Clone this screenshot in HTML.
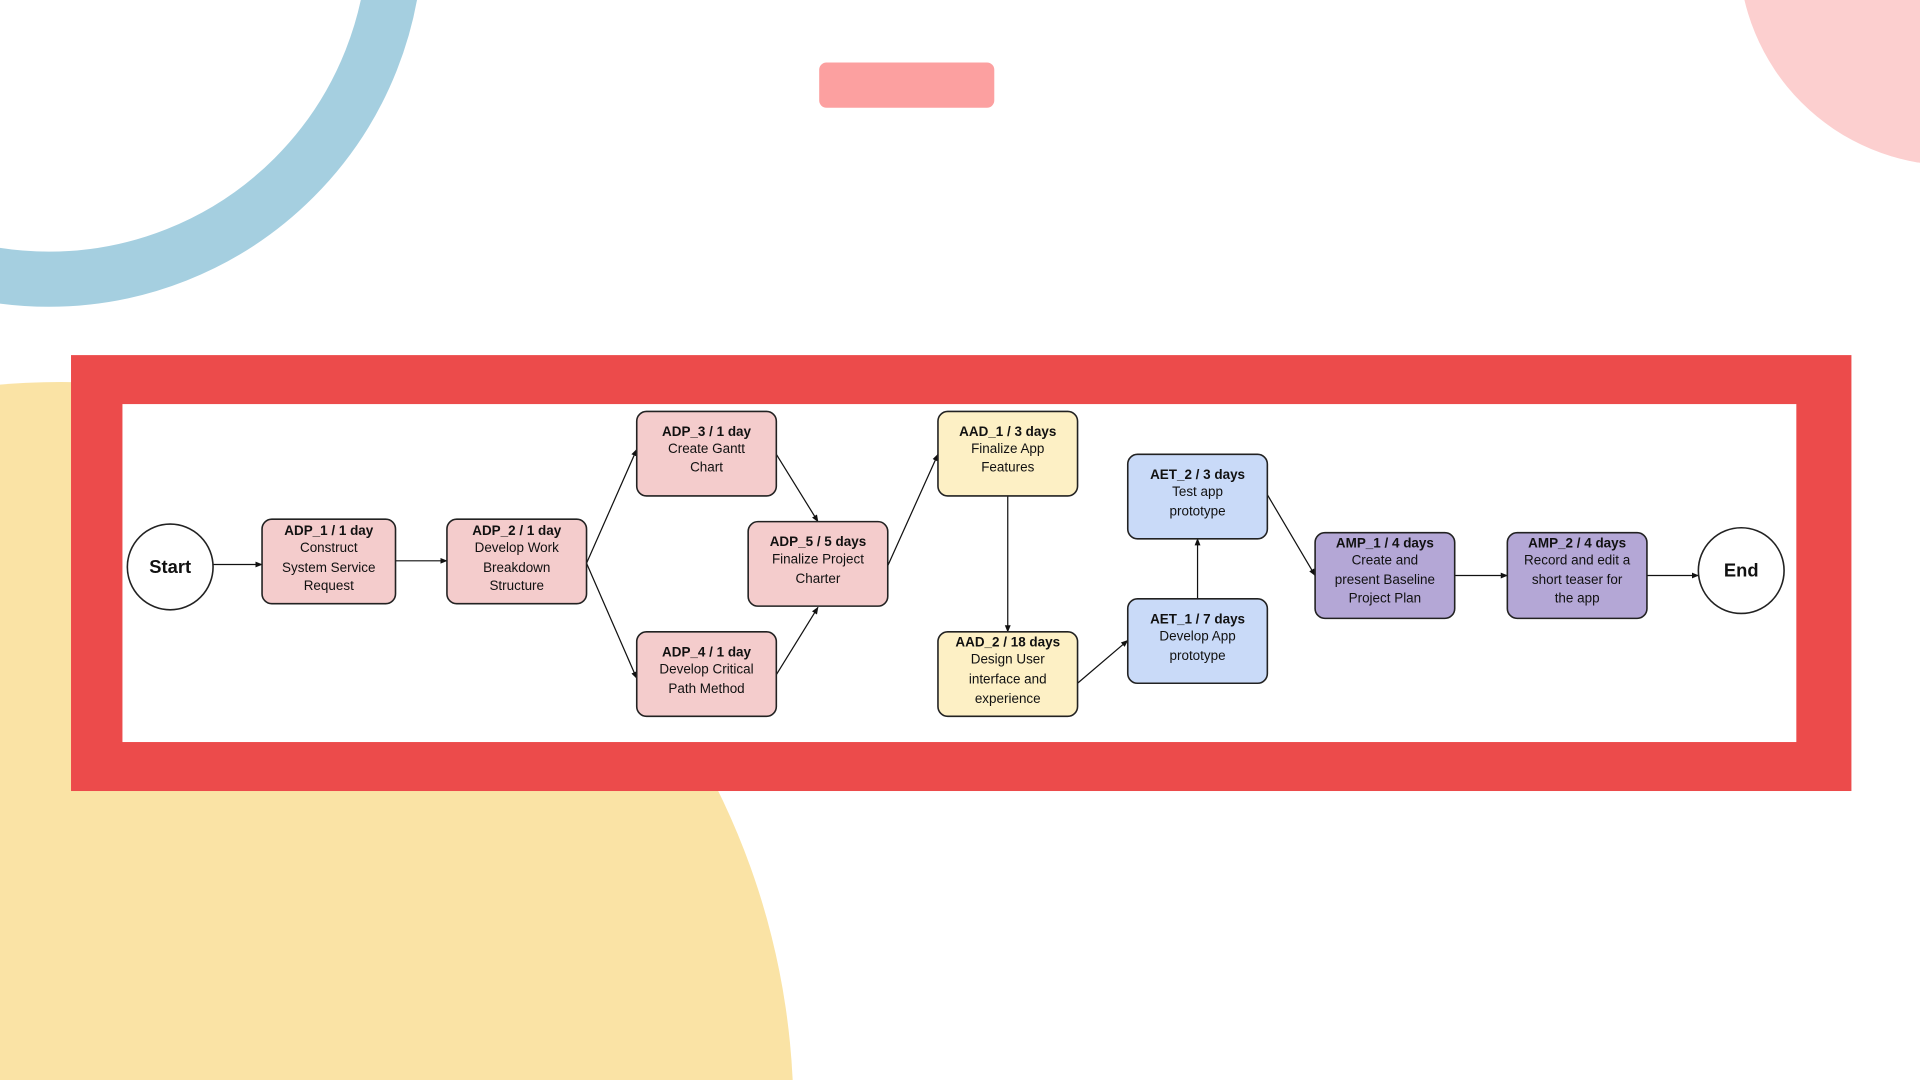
<!DOCTYPE html>
<html><head><meta charset="utf-8"><style>
html,body{margin:0;padding:0;background:#fff;width:1920px;height:1080px;overflow:hidden}
svg{display:block;overflow:hidden}
text{font-family:"Liberation Sans",Arial,sans-serif;font-size:11px;fill:#111;text-anchor:middle}
.b{font-weight:bold}
.n{stroke:#222;stroke-width:1.3}
.c{stroke:#111;stroke-width:1;fill:none;marker-end:url(#ar)}
</style></head><body>
<svg width="1920" height="1080" viewBox="0 0 1568 882" xmlns="http://www.w3.org/2000/svg">
<defs><marker id="ar" viewBox="0 0 10 10" refX="9" refY="5" markerWidth="6" markerHeight="6" orient="auto"><path d="M0,1 L10,5 L0,9 z" fill="#111"/></marker></defs>
<rect width="1568" height="882" fill="#fff"/>
<circle cx="50" cy="910" r="598" fill="#fae3a5"/>
<circle cx="40" cy="-55" r="283" fill="none" stroke="#a5cfe0" stroke-width="45"/>
<circle cx="1595" cy="-40" r="175" fill="#fccfcf"/>
<rect x="669" y="51" width="143" height="37" rx="6" fill="#fca0a0"/>
<rect x="58" y="290" width="1454" height="356" fill="#ec4b4b"/>
<rect x="100" y="330" width="1367" height="276" fill="#fff"/>

<line class="c" x1="174" y1="461" x2="214" y2="461"/>
<line class="c" x1="323" y1="458" x2="365" y2="458"/>
<line class="c" x1="479" y1="460" x2="520" y2="367"/>
<line class="c" x1="479" y1="460" x2="520" y2="554"/>
<line class="c" x1="634" y1="371" x2="668" y2="426"/>
<line class="c" x1="634" y1="551" x2="668" y2="496"/>
<line class="c" x1="725" y1="462" x2="766" y2="371"/>
<line class="c" x1="823" y1="405" x2="823" y2="516"/>
<line class="c" x1="880" y1="558" x2="921" y2="523"/>
<line class="c" x1="978" y1="489" x2="978" y2="440"/>
<line class="c" x1="1035" y1="404" x2="1074" y2="470"/>
<line class="c" x1="1188" y1="470" x2="1231" y2="470"/>
<line class="c" x1="1345" y1="470" x2="1387" y2="470"/>

<ellipse class="n" cx="139" cy="463" rx="35" ry="35" fill="#fff"/>
<text x="139" y="468" class="b" style="font-size:15px">Start</text>
<ellipse class="n" cx="1422" cy="466" rx="35" ry="35" fill="#fff"/>
<text x="1422" y="471" class="b" style="font-size:15px">End</text>

<rect class="n" x="214" y="424" width="109" height="69" rx="8" fill="#f4cccc"/>
<text x="268.5" y="437" class="b">ADP_1 / 1 day</text><text x="268.5" y="451">Construct</text><text x="268.5" y="467">System Service</text><text x="268.5" y="482">Request</text>

<rect class="n" x="365" y="424" width="114" height="69" rx="8" fill="#f4cccc"/>
<text x="422" y="437" class="b">ADP_2 / 1 day</text><text x="422" y="451">Develop Work</text><text x="422" y="467">Breakdown</text><text x="422" y="482">Structure</text>

<rect class="n" x="520" y="336" width="114" height="69" rx="8" fill="#f4cccc"/>
<text x="577" y="356" class="b">ADP_3 / 1 day</text><text x="577" y="370">Create Gantt</text><text x="577" y="385">Chart</text>

<rect class="n" x="520" y="516" width="114" height="69" rx="8" fill="#f4cccc"/>
<text x="577" y="536" class="b">ADP_4 / 1 day</text><text x="577" y="550">Develop Critical</text><text x="577" y="566">Path Method</text>

<rect class="n" x="611" y="426" width="114" height="69" rx="8" fill="#f4cccc"/>
<text x="668" y="446" class="b">ADP_5 / 5 days</text><text x="668" y="460">Finalize Project</text><text x="668" y="476">Charter</text>

<rect class="n" x="766" y="336" width="114" height="69" rx="8" fill="#fdf0c5"/>
<text x="823" y="356" class="b">AAD_1 / 3 days</text><text x="823" y="370">Finalize App</text><text x="823" y="385">Features</text>

<rect class="n" x="766" y="516" width="114" height="69" rx="8" fill="#fdf0c5"/>
<text x="823" y="528" class="b">AAD_2 / 18 days</text><text x="823" y="542">Design User</text><text x="823" y="558">interface and</text><text x="823" y="574">experience</text>

<rect class="n" x="921" y="371" width="114" height="69" rx="8" fill="#c9daf8"/>
<text x="978" y="391" class="b">AET_2 / 3 days</text><text x="978" y="405">Test app</text><text x="978" y="421">prototype</text>

<rect class="n" x="921" y="489" width="114" height="69" rx="8" fill="#c9daf8"/>
<text x="978" y="509" class="b">AET_1 / 7 days</text><text x="978" y="523">Develop App</text><text x="978" y="539">prototype</text>

<rect class="n" x="1074" y="435" width="114" height="70" rx="8" fill="#b4a7d6"/>
<text x="1131" y="447" class="b">AMP_1 / 4 days</text><text x="1131" y="461">Create and</text><text x="1131" y="477">present Baseline</text><text x="1131" y="492">Project Plan</text>

<rect class="n" x="1231" y="435" width="114" height="70" rx="8" fill="#b4a7d6"/>
<text x="1288" y="447" class="b">AMP_2 / 4 days</text><text x="1288" y="461">Record and edit a</text><text x="1288" y="477">short teaser for</text><text x="1288" y="492">the app</text>
</svg>
</body></html>
